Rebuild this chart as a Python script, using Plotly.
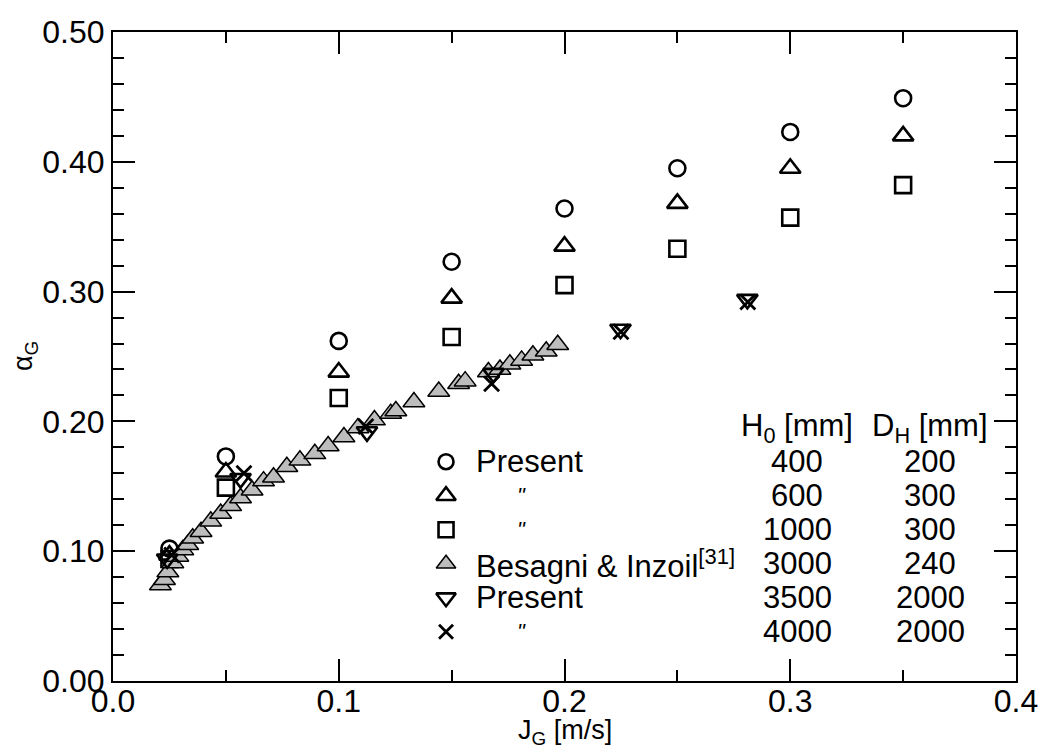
import plotly.graph_objects as go

# ---- data ----
jg_present = [0.025, 0.05, 0.10, 0.15, 0.20, 0.25, 0.30, 0.35]
alpha_h400 = [0.102, 0.173, 0.262, 0.323, 0.364, 0.395, 0.423, 0.449]
alpha_h600 = [0.097, 0.161, 0.238, 0.295, 0.335, 0.368, 0.395, 0.420]
alpha_h1000 = [0.094, 0.149, 0.218, 0.265, 0.305, 0.333, 0.357, 0.382]

jg_besagni = [0.0210, 0.0228, 0.0243, 0.0265, 0.0287, 0.0309, 0.0331, 0.0353,
              0.0390, 0.0433, 0.0477, 0.0521, 0.0565, 0.0616, 0.0667, 0.0711,
              0.0770, 0.0828, 0.0894, 0.0953, 0.1023, 0.1085, 0.1158, 0.1230,
              0.1253, 0.1333, 0.1443, 0.1531, 0.1560, 0.1663, 0.1714, 0.1758,
              0.1810, 0.1860, 0.1919, 0.1970]
alpha_besagni = [0.074, 0.078, 0.084, 0.091, 0.096, 0.101, 0.105, 0.110,
                 0.115, 0.123, 0.129, 0.135, 0.141, 0.147, 0.154, 0.157,
                 0.165, 0.170, 0.175, 0.181, 0.188, 0.195, 0.201, 0.206,
                 0.208, 0.215, 0.223, 0.229, 0.231, 0.238, 0.240, 0.244,
                 0.247, 0.251, 0.254, 0.259]

jg_h3500 = [0.024, 0.0565, 0.1125, 0.1685, 0.2248, 0.2810]
alpha_h3500 = [0.094, 0.156, 0.192, 0.237, 0.271, 0.294]
jg_h4000 = [0.026, 0.058, 0.1120, 0.1677, 0.2250, 0.2812]
alpha_h4000 = [0.097, 0.160, 0.196, 0.229, 0.269, 0.292]

legend_labels = ["Present", "\u2033", "\u2033",
                 "Besagni & Inzoil<sup><span style='font-size:22px'>[31]</span></sup>",
                 "Present", "\u2033"]
legend_h0 = ["400", "600", "1000", "3000", "3500", "4000"]
legend_dh = ["200", "300", "300", "240", "2000", "2000"]

FONT = "Liberation Sans, Arial, sans-serif"
GRAY = "#bdbdbd"

styles = [
    dict(symbol="circle-open", size=16, color="black", line=dict(width=2.6, color="black")),
    dict(symbol="triangle-up-open", size=18, color="black", line=dict(width=2.6, color="black")),
    dict(symbol="square-open", size=16, color="black", line=dict(width=2.6, color="black")),
    dict(symbol="triangle-up", size=19, color=GRAY, line=dict(width=1.5, color="black")),
    dict(symbol="triangle-down-open", size=18, color="black", line=dict(width=2.6, color="black")),
    dict(symbol="x-thin-open", size=15, color="black", line=dict(width=2.8, color="black")),
]

fig = go.Figure()
series = [(jg_present, alpha_h400, 0), (jg_present, alpha_h600, 1), (jg_present, alpha_h1000, 2),
          (jg_besagni, alpha_besagni, 3), (jg_h3500, alpha_h3500, 4), (jg_h4000, alpha_h4000, 5)]
for xs, ys, k in series:
    fig.add_trace(go.Scatter(x=xs, y=ys, mode="markers", marker=styles[k],
                             showlegend=False, hoverinfo="skip"))

# ---- custom legend table ----
sym_x = 0.3688
row_y = [0.3379, 0.2855, 0.2331, 0.1807, 0.1284, 0.0760]
head_y = 0.3898
col_lab = 0.3996
col_ditto = 0.4523
col_h0 = 0.758
col_dh = 0.905
LFS = 31

legend_markers = [dict(s, size=s["size"] - 1) for s in styles]
legend_markers[3] = dict(styles[3], size=17)
for i in range(6):
    fig.add_trace(go.Scatter(x=[sym_x], y=[row_y[i]], xaxis="x2", yaxis="y2", mode="markers",
                             marker=legend_markers[i], showlegend=False, hoverinfo="skip"))

ann = []
for i in range(6):
    if legend_labels[i] == "\u2033":
        ann.append(dict(x=col_ditto, y=row_y[i], xref="paper", yref="paper", text="<i>\"</i>",
                        showarrow=False, xanchor="center", yanchor="middle",
                        font=dict(family=FONT, size=22, color="black")))
    else:
        ann.append(dict(x=col_lab, y=row_y[i], xref="paper", yref="paper", text=legend_labels[i],
                        showarrow=False, xanchor="left", yanchor="middle",
                        font=dict(family=FONT, size=LFS, color="black")))
    ann.append(dict(x=col_h0, y=row_y[i], xref="paper", yref="paper", text=legend_h0[i],
                    showarrow=False, xanchor="center", yanchor="middle",
                    font=dict(family=FONT, size=LFS, color="black")))
    ann.append(dict(x=col_dh, y=row_y[i], xref="paper", yref="paper", text=legend_dh[i],
                    showarrow=False, xanchor="center", yanchor="middle",
                    font=dict(family=FONT, size=LFS, color="black")))
ann.append(dict(x=col_h0, y=head_y, xref="paper", yref="paper", text="H<sub>0</sub> [mm]",
                showarrow=False, xanchor="center", yanchor="middle",
                font=dict(family=FONT, size=LFS, color="black")))
ann.append(dict(x=col_dh, y=head_y, xref="paper", yref="paper", text="D<sub>H</sub> [mm]",
                showarrow=False, xanchor="center", yanchor="middle",
                font=dict(family=FONT, size=LFS, color="black")))
# axis titles
ann.append(dict(x=0.5, y=-0.1075, xref="paper", yref="paper", text="J<sub>G</sub> [m/s]",
                showarrow=False, xanchor="center", yanchor="bottom",
                font=dict(family=FONT, size=27, color="black")))
ann.append(dict(x=-0.098, y=0.5, xref="paper", yref="paper", text="\u03b1<sub>G</sub>",
                showarrow=False, xanchor="center", yanchor="middle", textangle=-90,
                font=dict(family=FONT, size=27, color="black")))

axis_common = dict(showline=True, linewidth=2, linecolor="black", mirror="allticks",
                   ticks="inside", ticklen=22, tickwidth=1.6, tickcolor="black",
                   showgrid=False, zeroline=False,
                   tickfont=dict(family=FONT, size=32, color="black"))

fig.update_layout(
    width=1050, height=751,
    margin=dict(l=113, r=26, t=32, b=70),
    paper_bgcolor="white", plot_bgcolor="white",
    xaxis=dict(range=[0, 0.4], tick0=0, dtick=0.1, tickformat=".1f", ticklabelstandoff=-9,
               minor=dict(dtick=0.05, ticklen=11, tickwidth=1.6, ticks="inside", tickcolor="black"),
               **axis_common),
    yaxis=dict(range=[0, 0.5], tick0=0, dtick=0.1, tickformat=".2f",
               minor=dict(dtick=0.02, ticklen=11, tickwidth=1.6, ticks="inside", tickcolor="black"),
               **axis_common),
    xaxis2=dict(overlaying="x", range=[0, 1], visible=False, anchor="y2"),
    yaxis2=dict(overlaying="y", range=[0, 1], visible=False, anchor="x2"),
    annotations=ann,
    showlegend=False,
)

fig.write_html("out.html")
